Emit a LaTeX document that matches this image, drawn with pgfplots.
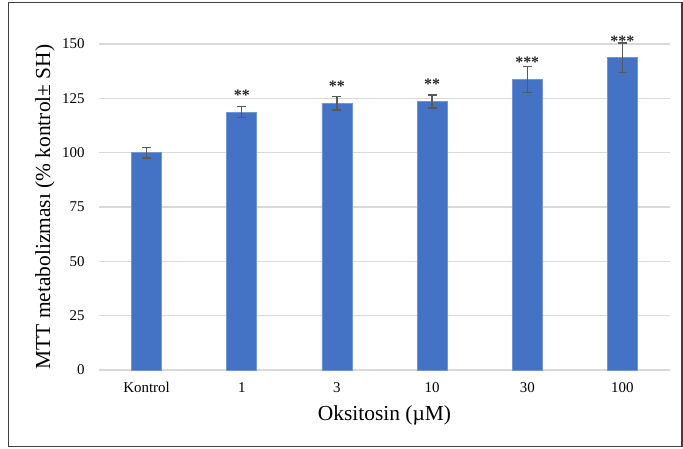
\documentclass[border=0pt]{standalone}
\usepackage{fontspec}
\setmainfont{Liberation Serif}
\usepackage{pgfplots}
\pgfplotsset{compat=1.18}
\definecolor{barblue}{HTML}{4472C4}
\definecolor{gridgray}{HTML}{D9D9D9}
\definecolor{errgray}{HTML}{595959}
\begin{document}
\begin{tikzpicture}
\fill[white] (0bp,0bp) rectangle (683bp,449bp);
\draw[color=black!75, line width=1.2bp] (8.5bp,2.5bp) rectangle (682bp,446.5bp);
\begin{axis}[
  at={(99bp,79bp)}, anchor=south west,
  scale only axis, width=571bp, height=326bp,
  ymin=0, ymax=150, ytick={0,25,...,150},
  xmin=-0.5, xmax=5.5, xtick={0,...,5},
  xticklabels={Kontrol,1,3,10,30,100},
  axis line style={draw=none},
  major tick length=0pt,
  ymajorgrids, grid style={gridgray, line width=1.2bp},
  /pgf/number format/assume math mode=true,
  ticklabel style={font=\fontsize{15}{18}\selectfont, text=black},
  xticklabel style={yshift=-9bp},
  yticklabel style={xshift=-11bp},
  xlabel={Oksitosin (µM)},
  ylabel={MTT metabolizması (\% kontrol± SH)},
  label style={font=\fontsize{21.5}{25}\selectfont},
  xlabel style={at={(axis description cs:0.5,-0.14)}, anchor=center},
  ylabel style={at={(axis description cs:-0.0946,0.5)}, anchor=center},
  clip=false,
]
\addplot[ybar, bar width=30bp, fill=barblue, draw=barblue!75!white, line width=0.8bp,
  error bars/.cd, y dir=both, y explicit,
  error bar style={errgray, line width=1.3bp},
  error mark options={rotate=90, errgray, mark size=4.5bp, line width=1.3bp}]
  coordinates {
    (0,100.0) +- (0,2.5)
    (1,118.7) +- (0,2.5)
    (2,122.7) +- (0,3.1)
    (3,123.6) +- (0,3.0)
    (4,133.8) +- (0,6.0)
    (5,143.7) +- (0,6.8)
  };
\addplot[draw=none, nodes near coords, point meta=explicit symbolic,
  every node near coord/.style={anchor=south, yshift=8bp, text=black!85, font=\fontsize{16}{19}\selectfont\bfseries}]
  coordinates {
    (1,118.7) [**]
    (2,122.7) [**]
    (3,123.6) [**]
    (4,133.8) [***]
    (5,143.7) [***]
  };
\end{axis}
\end{tikzpicture}
\end{document}
